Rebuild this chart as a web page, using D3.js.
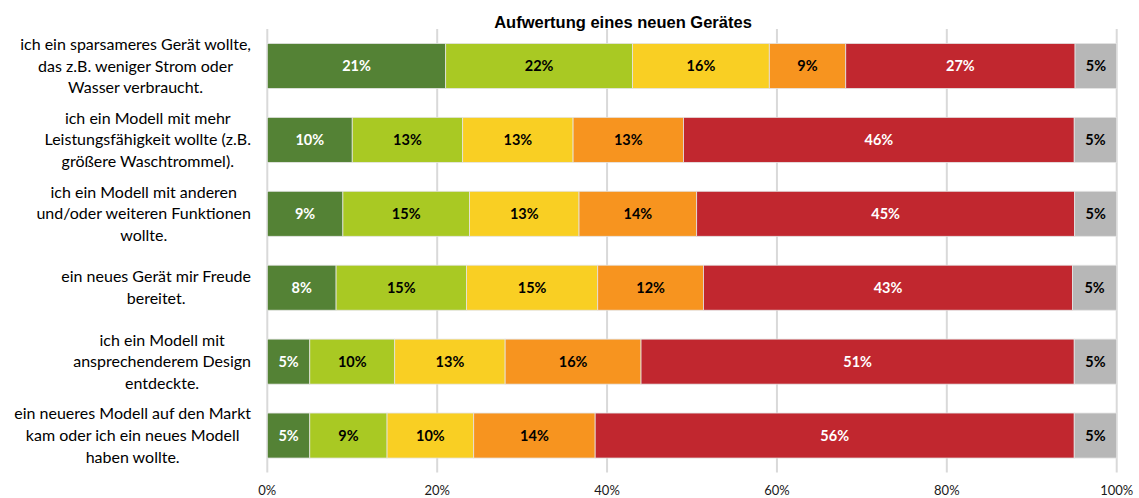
<!DOCTYPE html>
<html>
<head>
<meta charset="utf-8">
<script src="https://cdn.jsdelivr.net/npm/d3@7"></script>
<style>
  html, body { margin: 0; padding: 0; background: #ffffff; }
  svg { display: block; }
</style>
</head>
<body>
<svg id="chart" width="1139" height="498"></svg>
<script>
// ---------- data ----------
const title = "Aufwertung eines neuen Gerätes";
const categories = [
  "ich ein sparsameres Gerät wollte,|das z.B. weniger Strom oder|Wasser verbraucht.",
  "ich ein Modell mit mehr|Leistungsfähigkeit wollte (z.B.|größere Waschtrommel).",
  "ich ein Modell mit anderen|und/oder weiteren Funktionen|wollte.",
  "ein neues Gerät mir Freude|bereitet.",
  "ich ein Modell mit|ansprechenderem Design|entdeckte.",
  "ein neueres Modell auf den Markt|kam oder ich ein neues Modell|haben wollte."
];
const seriesNames = ["Stufe 1", "Stufe 2", "Stufe 3", "Stufe 4", "Stufe 5", "keine Angabe"];
const stufe1 = [21.0, 10.0, 8.9, 8.1, 5.0, 5.0];
const stufe2 = [22.0, 13.0, 14.9, 15.35, 10.0, 9.1];
const stufe3 = [16.1, 13.0, 12.9, 15.45, 13.0, 10.2];
const stufe4 = [9.0, 13.0, 13.85, 12.45, 16.0, 14.3];
const stufe5 = [27.0, 46.0, 44.5, 43.45, 51.0, 56.4];
const keineAngabe = [4.9, 5.0, 4.95, 5.2, 5.0, 5.0];
const tickValues = [0, 20, 40, 60, 80, 100];
const tickLabels = ["0%", "20%", "40%", "60%", "80%", "100%"];

// ---------- styles ----------
const colors = ["#548235", "#a9c923", "#f9cf23", "#f7941f", "#c1272f", "#b7b7b7"];
const labelColors = ["#ffffff", "#000000", "#000000", "#000000", "#ffffff", "#000000"];

const svg = d3.select("#chart");
const plot = { left: 267.3, right: 1116.7, top: 29, bottom: 472.5 };

const allSeries = [stufe1, stufe2, stufe3, stufe4, stufe5, keineAngabe];
const table = categories.map((c, i) => {
  const row = { cat: c };
  seriesNames.forEach((s, k) => { row[s] = allSeries[k][i]; });
  return row;
});

const x = d3.scaleLinear().domain([0, 100]).range([plot.left, plot.right]);
const y = d3.scaleBand().domain(categories).range([plot.top, plot.bottom])
  .paddingInner(0.391).paddingOuter(0.1955);

// gridlines
svg.append("g").selectAll("line").data(tickValues).join("line")
  .attr("x1", d => x(d)).attr("x2", d => x(d))
  .attr("y1", plot.top).attr("y2", plot.bottom)
  .attr("stroke", "#d9d9d9").attr("stroke-width", 2);

// stacked bars
const stacked = d3.stack().keys(seriesNames)(table);
const groups = svg.append("g").selectAll("g").data(stacked).join("g")
  .attr("fill", (d, i) => colors[i]);
groups.selectAll("rect").data(d => d).join("rect")
  .attr("x", d => x(d[0]))
  .attr("y", d => y(d.data.cat))
  .attr("width", d => x(d[1]) - x(d[0]))
  .attr("height", y.bandwidth())
  .attr("stroke", "#e4e4e4").attr("stroke-width", 0.8);

// data labels
stacked.forEach((layer, k) => {
  svg.append("g").selectAll("text").data(layer).join("text")
    .attr("x", d => (x(d[0]) + x(d[1])) / 2)
    .attr("y", d => y(d.data.cat) + y.bandwidth() / 2)
    .attr("dy", "0.36em")
    .attr("text-anchor", "middle")
    .attr("font-family", "Lato, 'Open Sans', sans-serif")
    .attr("font-weight", "bold")
    .attr("font-size", 14.5)
    .attr("fill", labelColors[k])
    .text(d => Math.round(d[1] - d[0]) + "%");
});

// x-axis tick labels
svg.append("g").selectAll("text").data(tickValues).join("text")
  .attr("x", d => x(d))
  .attr("y", 495)
  .attr("text-anchor", "middle")
  .attr("font-family", "Lato, 'Open Sans', sans-serif")
  .attr("font-size", 13)
  .attr("fill", "#1a1a1a")
  .text((d, i) => tickLabels[i]);

// category labels (wrapped, centered inside a right-aligned block)
const lineH = 21.7;
const catG = svg.append("g")
  .attr("font-family", "Lato, 'Open Sans', sans-serif")
  .attr("font-size", 16)
  .attr("fill", "#000000");
categories.forEach(c => {
  const lines = c.split("|");
  const g = catG.append("g");
  const texts = lines.map((ln, j) => g.append("text")
    .attr("y", y(c) + y.bandwidth() / 2 + (j - (lines.length - 1) / 2) * lineH)
    .attr("dy", "0.35em")
    .attr("text-anchor", "middle")
    .text(ln));
  const w = d3.max(texts, t => t.node().getComputedTextLength());
  const cx = 251 - w / 2;
  texts.forEach(t => t.attr("x", cx));
});

// title
svg.append("text")
  .attr("x", 623).attr("y", 28)
  .attr("text-anchor", "middle")
  .attr("font-family", "'Liberation Sans', Arial, sans-serif")
  .attr("font-weight", "bold")
  .attr("font-size", 16.5)
  .attr("fill", "#000000")
  .text(title);
</script>
</body>
</html>
